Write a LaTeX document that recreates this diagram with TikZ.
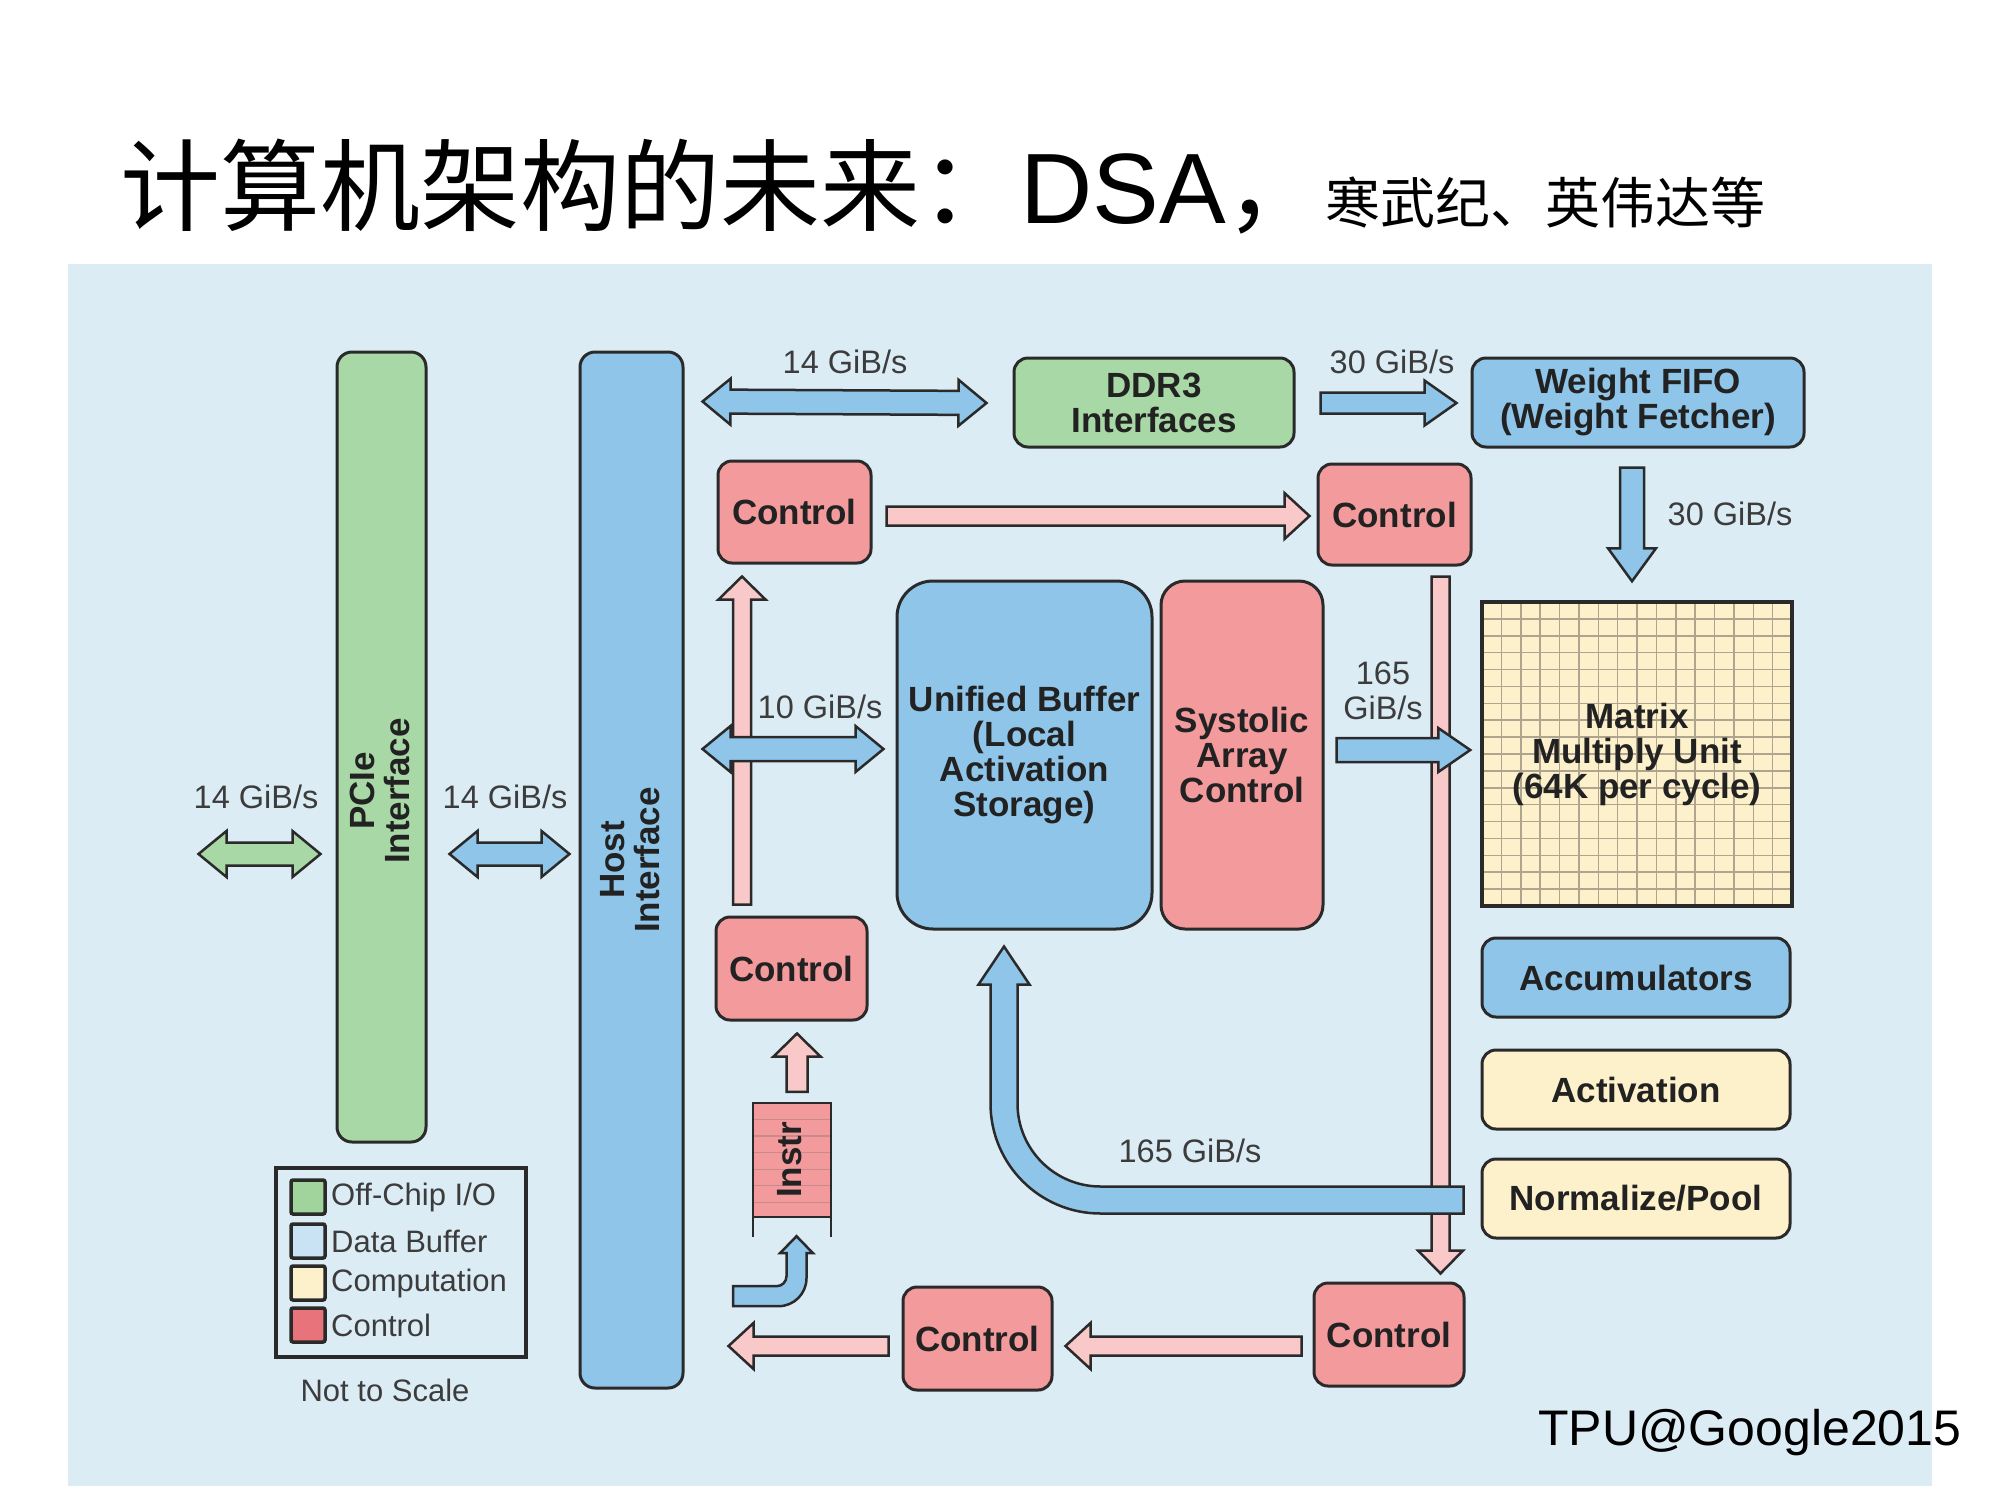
\documentclass[tikz,border=0pt]{standalone}
\usepackage{fontspec}
\usepackage{graphicx}
\usetikzlibrary{calc}
\newfontfamily\lib{Liberation Sans}
\newfontfamily\cjk{Noto Sans CJK SC}
\definecolor{bgc}{HTML}{DCECF5}
\definecolor{gfill}{HTML}{A8D8A6}
\definecolor{bfill}{HTML}{8FC5E9}
\definecolor{rfill}{HTML}{F29A9C}
\definecolor{pfill}{HTML}{F9C8C9}
\definecolor{yfill}{HTML}{FDF1CB}
\definecolor{edge}{HTML}{2A2A2A}
\definecolor{txt}{HTML}{222222}
\definecolor{lbl}{HTML}{3C3C3C}
\definecolor{gridc}{HTML}{AFA58E}
\definecolor{stripec}{HTML}{C98A8E}
\definecolor{swg}{HTML}{A0D49C}
\definecolor{swb}{HTML}{C9E3F5}
\definecolor{swy}{HTML}{FDF1CB}
\definecolor{swr}{HTML}{E9737B}
\newcommand\boxfont{\lib\bfseries\fontsize{35}{35}\selectfont}
\newcommand\ratefont{\lib\fontsize{32.5}{35}\selectfont}
\newcommand\legfont{\lib\fontsize{31}{33}\selectfont}
% single block arrow: style, from, tip, half shaft, half head, head length
\newcommand\sarrow[6]{%
  \path #2 coordinate (saA);
  \path #3 coordinate (saB);
  \path ($(saB)!#6!(saA)$) coordinate (saH);
  \filldraw[#1] ($(saA)!#4!90:(saB)$) -- ($(saH)!#4!90:(saB)$) -- ($(saH)!#5!90:(saB)$) -- (saB)
    -- ($(saH)!#5!-90:(saB)$) -- ($(saH)!#4!-90:(saB)$) -- ($(saA)!#4!-90:(saB)$) -- cycle;
}
% double block arrow
\newcommand\darrow[6]{%
  \path #2 coordinate (daA);
  \path #3 coordinate (daB);
  \path ($(daA)!#6!(daB)$) coordinate (daP);
  \path ($(daB)!#6!(daA)$) coordinate (daQ);
  \filldraw[#1] (daA) -- ($(daP)!#5!90:(daB)$) -- ($(daP)!#4!90:(daB)$) -- ($(daQ)!#4!90:(daB)$)
    -- ($(daQ)!#5!90:(daB)$) -- (daB) -- ($(daQ)!#5!-90:(daB)$) -- ($(daQ)!#4!-90:(daB)$)
    -- ($(daP)!#4!-90:(daB)$) -- ($(daP)!#5!-90:(daB)$) -- cycle;
}
\begin{document}
\begin{tikzpicture}[x=1pt,y=-1pt,
  box/.style={draw=edge, line width=3pt, rounded corners=14pt, inner sep=0pt, align=center, font=\boxfont, text=txt},
  ratelbl/.style={font=\ratefont, text=lbl, inner sep=0pt, align=center},
  parrow/.style={fill=pfill, draw=edge, line width=2.5pt},
  barrow/.style={fill=bfill, draw=edge, line width=2.5pt},
  garrow/.style={fill=gfill, draw=edge, line width=2.5pt},
  swatch/.style={draw=edge, line width=3.5pt, minimum size=34pt, inner sep=0pt, rounded corners=2pt},
  legtext/.style={anchor=west, inner sep=0pt, font=\legfont, text=lbl}]
\useasboundingbox (0,0) rectangle (2000,1500);
\fill[white] (0,0) rectangle (2000,1500);
\fill[bgc] (68,264) rectangle (1932,1486);

% title
\node[anchor=base west, inner sep=0pt] (title) at (120,223)
  {\cjk\fontsize{100}{100}\selectfont 计算机架构的未来：{\lib DSA}，\fontsize{55}{55}\selectfont 寒武纪、英伟达等};

% blocks
\node[box, fill=gfill, rounded corners=15pt, minimum width=89pt, minimum height=790pt] (pcie) at (381.5,747) {};
\node[box, fill=bfill, rounded corners=15pt, minimum width=103pt, minimum height=1036pt] (host) at (631.5,870) {};
\node[inner sep=0pt, rotate=90, align=center, font=\boxfont, text=txt] (pcieT) at (380,791) {PCIe\\Interface};
\node[inner sep=0pt, rotate=90, align=center, font=\boxfont, text=txt] (hostT) at (630,860) {Host\\Interface};
\node[box, fill=gfill, minimum width=280pt, minimum height=89pt] (ddr) at (1154,402.5) {DDR3\\Interfaces};
\node[box, fill=bfill, minimum width=332pt, minimum height=89pt] (wfifo) at (1638,402.5) {Weight FIFO\\(Weight Fetcher)};
\node[box, fill=rfill, minimum width=153pt, minimum height=102pt] (ctlTL) at (794.5,512) {Control};
\node[box, fill=rfill, minimum width=153pt, minimum height=101pt] (ctlTR) at (1394.5,514.5) {Control};
\node[box, fill=bfill, rounded corners=36pt, minimum width=255pt, minimum height=348pt] (ub) at (1024.5,755) {Unified Buffer\\(Local\\Activation\\Storage)};
\node[box, fill=rfill, rounded corners=24pt, minimum width=162pt, minimum height=348pt] (sac) at (1242,755) {Systolic\\Array\\Control};
\node[box, fill=yfill, rounded corners=0pt, line width=3.5pt, minimum width=310pt, minimum height=304pt,
  path picture={
    \foreach \i in {1,...,15}{\draw[gridc, line width=1.5pt] ($(path picture bounding box.north west)!\i/16!(path picture bounding box.north east)$) -- ($(path picture bounding box.south west)!\i/16!(path picture bounding box.south east)$);}
    \foreach \j in {1,...,17}{\draw[gridc, line width=1.5pt] ($(path picture bounding box.north west)!\j/18!(path picture bounding box.south west)$) -- ($(path picture bounding box.north east)!\j/18!(path picture bounding box.south east)$);}
  }] (mmu) at (1637,754) {Matrix\\Multiply Unit\\(64K per cycle)};
\node[box, fill=bfill, minimum width=308pt, minimum height=79pt] (acc) at (1636,977.5) {Accumulators};
\node[box, fill=yfill, minimum width=308pt, minimum height=79pt] (act) at (1636,1089.5) {Activation};
\node[box, fill=yfill, minimum width=308pt, minimum height=79pt] (norm) at (1636,1198.5) {Normalize/Pool};
\node[box, fill=rfill, minimum width=151pt, minimum height=103pt] (ctlML) at (791.5,968.5) {Control};
\node[box, fill=rfill, minimum width=149pt, minimum height=103pt] (ctlBM) at (977.5,1338.5) {Control};
\node[box, fill=rfill, minimum width=150pt, minimum height=103pt] (ctlBR) at (1389,1334.5) {Control};

% instruction queue
\node[fill=rfill, inner sep=0pt, minimum width=78pt, minimum height=114pt,
  path picture={
    \foreach \k in {1,...,6}{\draw[stripec, line width=1.2pt] ($(path picture bounding box.north west)!\k/6.9!(path picture bounding box.south west)$) -- ($(path picture bounding box.north east)!\k/6.9!(path picture bounding box.south east)$);}
  }] (instr) at (792,1160) {};
\draw[edge, line width=2.5pt] ($(instr.south west)+(0,20)$) -- (instr.north west) -- (instr.north east) -- ($(instr.south east)+(0,20)$);
\draw[edge, line width=2.5pt] (instr.south west) -- (instr.south east);
\node[inner sep=0pt, rotate=90, font=\boxfont, text=txt] (instrT) at (790,1160) {Instr};

% pink control arrows
\sarrow{parrow}{($(ctlTL.east)+(14,4)$)}{($(ctlTR.west)+(-7,1.5)$)}{9.5pt}{23pt}{25pt}
\sarrow{parrow}{($(ctlML.north)+(-49.5,-11)$)}{($(ctlTL.south)+(-52.5,12)$)}{9pt}{23.5pt}{23pt}
\sarrow{parrow}{($(instr.north)+(5,-11)$)}{($(ctlML.south)+(5.5,12)$)}{10.5pt}{23.5pt}{23pt}
\sarrow{parrow}{($(ctlTR.south)+(46,10)$)}{($(ctlBR.north)+(51.5,-8)$)}{9pt}{22.5pt}{23pt}
\sarrow{parrow}{($(ctlBR.west)+(-11,11.5)$)}{($(ctlBM.east)+(12,7.5)$)}{9.5pt}{23pt}{25pt}
\coordinate (outL) at ($(ctlBM.west)+(-173,7.5)$);
\sarrow{parrow}{($(ctlBM.west)+(-13,7.5)$)}{(outL)}{9.5pt}{23pt}{25pt}

% data arrows
\darrow{garrow}{($(pcie.west)+(-137,107)$)}{($(pcie.west)+(-15,107)$)}{11.5pt}{23pt}{28pt}
\darrow{barrow}{($(pcie.east)+(22,107)$)}{($(host.west)+(-9,-16)$)}{11.5pt}{23pt}{28pt}
\darrow{barrow}{($(host.north east)+(18,51)$)}{($(ddr.west)+(-26,0.5)$)}{12pt}{23pt}{28pt}
\sarrow{barrow}{($(ddr.east)+(25,0.5)$)}{($(wfifo.west)+(-14,0.5)$)}{10.5pt}{22.5pt}{32pt}
\sarrow{barrow}{($(wfifo.south)+(-6,19)$)}{($(mmu.north)+(-5,-19)$)}{12pt}{24pt}{33pt}
\darrow{barrow}{($(host.east)+(18,-121)$)}{($(ub.west)+(-12,-6)$)}{12pt}{23pt}{28pt}
\sarrow{barrow}{($(sac.east)+(12,-5)$)}{($(mmu.west)+(-10,-4)$)}{12pt}{22pt}{32pt}

% big curved return arrow (Normalize/Pool -> Unified Buffer)
\coordinate (bt) at ($(ub.south)+(-20.5,16)$);
\coordinate (be) at ($(norm.west)+(-17,1.5)$);
\filldraw[barrow] (bt) -- ($(bt)+(25.5,38)$) -- ($(bt)+(13.5,38)$)
  [rounded corners=83pt] -- ($(bt|-be)+(13.5,-13.5)$)
  [sharp corners] -- ($(be)+(0,-13.5)$) -- ($(be)+(0,13.5)$)
  [rounded corners=110pt] -- ($(bt|-be)+(-13.5,13.5)$)
  [sharp corners] -- ($(bt)+(-13.5,38)$) -- ($(bt)+(-25.5,38)$) -- cycle;

% small curved arrow into the instruction queue
\coordinate (st) at ($(instr.south)+(4.5,19)$);
\coordinate (sl) at ($(instr.south)+(-59,79)$);
\filldraw[barrow] (st) -- ($(st)+(16.5,17)$) -- ($(st)+(10,17)$)
  [rounded corners=28pt] -- ($(st|-sl)+(10,10)$)
  [sharp corners] -- ($(sl)+(0,10)$) -- ($(sl)+(0,-10)$)
  [rounded corners=10pt] -- ($(st|-sl)+(-10,-10)$)
  [sharp corners] -- ($(st)+(-10,17)$) -- ($(st)+(-16.5,17)$) -- cycle;

% rate labels
\node[ratelbl] (r1) at (256,797) {14 GiB/s};
\node[ratelbl] (r2) at (505,797) {14 GiB/s};
\node[ratelbl] (r3) at (845,362) {14 GiB/s};
\node[ratelbl] (r4) at (1392,362) {30 GiB/s};
\node[ratelbl] (r5) at (1730,514) {30 GiB/s};
\node[ratelbl] (r6) at (820,707) {10 GiB/s};
\node[ratelbl] (r7) at (1383,691) {165\\GiB/s};
\node[ratelbl] (r8) at (1190,1151) {165 GiB/s};

% legend
\node[draw=edge, line width=4pt, minimum width=250pt, minimum height=189pt, inner sep=0pt] (legend) at (401,1262.5) {};
\node[swatch, fill=swg] (sw1) at (308,1197) {};
\node[swatch, fill=swb] (sw2) at (308,1241) {};
\node[swatch, fill=swy] (sw3) at (308,1283) {};
\node[swatch, fill=swr] (sw4) at (308,1325) {};
\node[legtext] (l1) at (331,1197) {Off-Chip I/O};
\node[legtext] (l2) at (331,1241) {Data Buffer};
\node[legtext] (l3) at (331,1283) {Computation};
\node[legtext] (l4) at (331,1325) {Control};
\node[inner sep=0pt, font=\legfont, text=lbl] (nts) at (385,1390) {Not to Scale};

\node[anchor=base west, inner sep=0pt, font=\lib\fontsize{50}{50}\selectfont] (tpu) at (1538,1445) {TPU@Google2015};
\end{tikzpicture}
\end{document}
